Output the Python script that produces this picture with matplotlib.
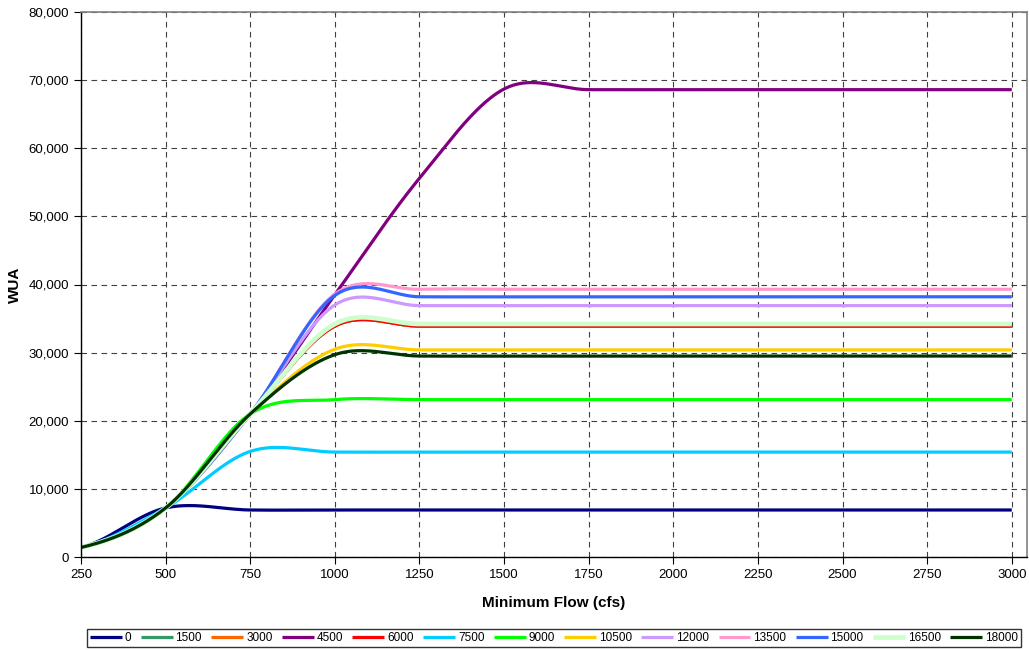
import numpy as np
import matplotlib
matplotlib.use("Agg")
import matplotlib.pyplot as plt
from matplotlib.ticker import FuncFormatter, MultipleLocator

plt.rcParams["font.family"] = ["Liberation Sans", "DejaVu Sans"]

# Minimum flow (cfs) at each data point
flows = [250, 500, 750, 1000, 1250, 1500, 1750, 2000, 2250, 2500, 2750, 3000]

# WUA for each series
wua_0     = [1400, 7200,  6900,  6900,  6900,  6900,  6900,  6900,  6900,  6900,  6900,  6900]
wua_1500  = [1400, 7200, 21000, 33900, 33900, 33900, 33900, 33900, 33900, 33900, 33900, 33900]
wua_3000  = [1400, 7200, 21000, 33900, 33900, 33900, 33900, 33900, 33900, 33900, 33900, 33900]
wua_4500  = [1400, 7200, 21000, 38500, 55600, 68700, 68600, 68600, 68600, 68600, 68600, 68600]
wua_6000  = [1400, 7200, 21000, 33900, 33900, 33900, 33900, 33900, 33900, 33900, 33900, 33900]
wua_7500  = [1400, 7200, 15500, 15400, 15400, 15400, 15400, 15400, 15400, 15400, 15400, 15400]
wua_9000  = [1400, 7200, 21000, 23100, 23100, 23100, 23100, 23100, 23100, 23100, 23100, 23100]
wua_10500 = [1400, 7200, 21000, 30500, 30400, 30400, 30400, 30400, 30400, 30400, 30400, 30400]
wua_12000 = [1400, 7200, 21000, 37000, 36900, 36900, 36900, 36900, 36900, 36900, 36900, 36900]
wua_13500 = [1400, 7200, 21000, 38600, 39300, 39300, 39300, 39300, 39300, 39300, 39300, 39300]
wua_15000 = [1400, 7200, 21000, 38400, 38200, 38200, 38200, 38200, 38200, 38200, 38200, 38200]
wua_16500 = [1400, 7200, 21000, 34200, 34200, 34200, 34200, 34200, 34200, 34200, 34200, 34200]
wua_18000 = [1400, 7200, 21000, 29700, 29500, 29500, 29500, 29500, 29500, 29500, 29500, 29500]

labels = ["0", "1500", "3000", "4500", "6000", "7500", "9000",
          "10500", "12000", "13500", "15000", "16500", "18000"]
series = [wua_0, wua_1500, wua_3000, wua_4500, wua_6000, wua_7500, wua_9000,
          wua_10500, wua_12000, wua_13500, wua_15000, wua_16500, wua_18000]
colors = ["#000080", "#339966", "#FF6600", "#800080", "#FF0000", "#00CCFF", "#00FF00",
          "#FFCC00", "#CC99FF", "#FF99CC", "#3366FF", "#CCFFCC", "#003300"]
widths = [2.3] * 11 + [3.4, 2.3]


def smooth(x, y, n=40):
    # Catmull-Rom style smoothing, like Excel's smoothed lines
    x = np.asarray(x, float)
    y = np.asarray(y, float)
    xs, ys = [], []
    for i in range(len(x) - 1):
        y0 = y[i - 1] if i > 0 else y[i]
        y3 = y[i + 2] if i + 2 < len(y) else y[i + 1]
        m0 = (y[i + 1] - y0) / 2
        m1 = (y3 - y[i]) / 2
        t = np.linspace(0, 1, n, endpoint=(i == len(x) - 2))
        h00 = 2 * t**3 - 3 * t**2 + 1
        h10 = t**3 - 2 * t**2 + t
        h01 = -2 * t**3 + 3 * t**2
        h11 = t**3 - t**2
        xs.append(x[i] + t * (x[i + 1] - x[i]))
        ys.append(h00 * y[i] + h10 * m0 + h01 * y[i + 1] + h11 * m1)
    return np.concatenate(xs), np.concatenate(ys)


fig = plt.figure(figsize=(10.29, 6.5), dpi=100)
ax = fig.add_axes([81 / 1029, 1 - 557 / 650, (1027 - 81) / 1029, 545 / 650])

for lab, vals, col, w in zip(labels, series, colors, widths):
    sx, sy = smooth(flows, vals)
    ax.plot(sx, sy, color=col, lw=w, label=lab, solid_capstyle="butt")

ax.set_xlim(250, 3045)
ax.set_ylim(0, 80000)
ax.set_xticks(flows)
ax.yaxis.set_major_locator(MultipleLocator(10000))
ax.yaxis.set_major_formatter(FuncFormatter(lambda v, p: f"{int(v):,}"))

ax.grid(True, color="#404040", ls=(0, (5, 4)), lw=0.8)
ax.set_axisbelow(True)

for s in ["top", "right"]:
    ax.spines[s].set_color("#808080")
    ax.spines[s].set_linewidth(1.2)
for s in ["left", "bottom"]:
    ax.spines[s].set_color("black")
    ax.spines[s].set_linewidth(1.0)

ax.tick_params(direction="out", length=5, width=0.8, labelsize=9.5, pad=3.5)

ax.set_xlabel("Minimum Flow (cfs)", fontsize=11, fontweight="bold", labelpad=11)
ax.set_ylabel("WUA", fontsize=11, fontweight="bold", labelpad=5)

leg = fig.legend(loc="lower left", bbox_to_anchor=(87 / 1029, 1 - 647 / 650, (1021 - 87) / 1029, 20 / 650),
                 ncol=13, mode="expand", fontsize=8.5, handlelength=2.7, handletextpad=0.25,
                 columnspacing=0.6, borderpad=0.25, borderaxespad=0, fancybox=False,
                 frameon=True)
leg.get_frame().set_edgecolor("black")
leg.get_frame().set_linewidth(1.0)

fig.savefig("out.png", dpi=100)
